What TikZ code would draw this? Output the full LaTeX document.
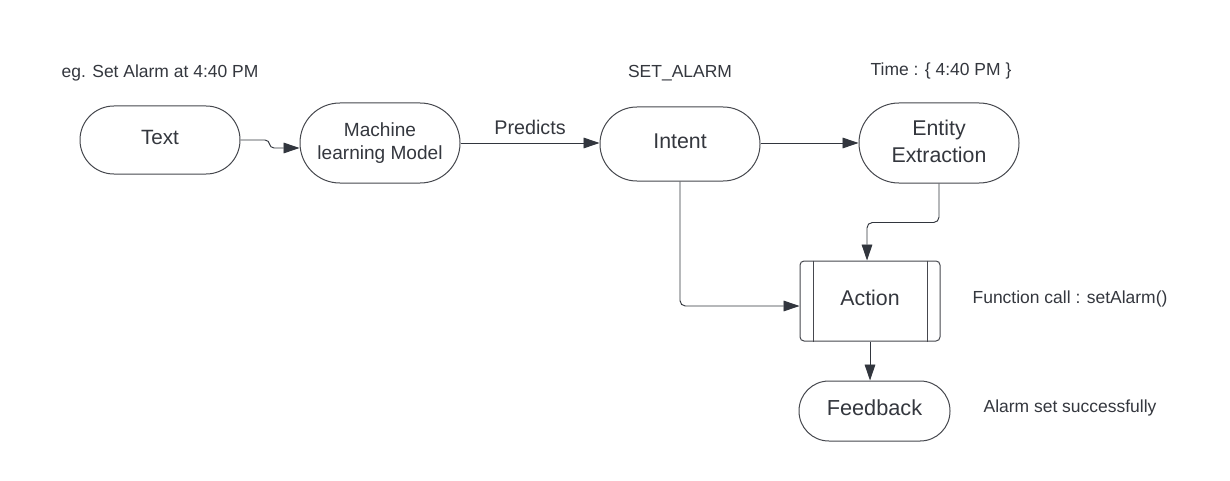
\documentclass[tikz,border=0pt]{standalone}
\usepackage{fontspec}
\setmainfont{Liberation Sans}
\usetikzlibrary{arrows.meta}
\definecolor{txt}{RGB}{52,55,62}
\definecolor{edge}{RGB}{70,72,78}
\definecolor{arrc}{RGB}{50,54,62}
\tikzset{
  pill/.style={draw=edge, line width=0.75pt, text=txt, align=center, inner sep=0pt},
  lbl/.style={text=txt, font=\fontsize{13.1pt}{15pt}\selectfont, inner sep=0pt},
  arr/.style={draw=arrc, line width=0.7pt, -{Triangle[length=12pt,width=8pt]}},
}
\begin{document}
\begin{tikzpicture}[x=0.75pt,y=-0.75pt]
\useasboundingbox[fill=white] (0,0) rectangle (1230,481);
% nodes
\node[pill, minimum width=120pt, minimum height=51pt, rounded corners=25.4pt, text depth=4.5pt,
      font=\fontsize{15.5pt}{18pt}\selectfont] (text) at (160,140) {Text};
\node[pill, minimum width=120pt, minimum height=60pt, rounded corners=29.9pt,
      font=\fontsize{14.3pt}{17.2pt}\selectfont] (ml) at (380,143) {Machine\\learning Model};
\node[pill, minimum width=120pt, minimum height=55.5pt, rounded corners=27.6pt, text depth=5pt,
      font=\fontsize{16pt}{19pt}\selectfont] (intent) at (680,144) {Intent};
\node[pill, minimum width=120pt, minimum height=60pt, rounded corners=29.9pt, text depth=2.5pt,
      font=\fontsize{16pt}{20pt}\selectfont] (entity) at (939,143) {Entity\\Extraction};
\node[pill, minimum width=105pt, minimum height=60pt, rounded corners=3pt, text depth=4.5pt,
      font=\fontsize{16pt}{19pt}\selectfont] (act) at (870,301) {Action};
\draw[edge, line width=0.75pt] ([xshift=10.5pt]act.north west) -- ([xshift=10.5pt]act.south west);
\draw[edge, line width=0.75pt] ([xshift=-9.75pt]act.north east) -- ([xshift=-9.75pt]act.south east);
\node[pill, minimum width=113.25pt, minimum height=45pt, rounded corners=22.4pt, text depth=4.5pt,
      font=\fontsize{16.3pt}{19pt}\selectfont] (fb) at (874.5,411) {Feedback};
% labels
\node[lbl] (l1) at (160,73) {eg. Set Alarm at 4:40 PM};
\node[lbl] (l2) at (680,73) {SET\_ALARM};
\node[lbl] (l3) at (941,71) {Time : \{ 4:40 PM \}};
\node[lbl] (l4) at (1070,299) {Function call : setAlarm()};
\node[lbl] (l5) at (1070,408) {Alarm set successfully};
% connectors
\coordinate (j1) at (265,140);
\coordinate (j2) at (274,148);
\draw[arr] (text.east) -- (j1) .. controls (271,140) and (268,148) .. (j2) -- ([yshift=-3.75pt]ml.west);
\draw[arr] (ml.east) -- node[above=6pt, text=txt, inner sep=0pt, font=\fontsize{14.8pt}{17pt}\selectfont] (pred) {Predicts} (intent.west |- ml.east);
\draw[arr] (intent.east |- entity.west) -- (entity.west);
\draw[arr, rounded corners=4pt] (entity.south) -- ++(0,39) -| ([xshift=-2.25pt]act.north);
\draw[arr, rounded corners=4pt] (intent.south) |- ([yshift=-3.75pt]act.west);
\draw[arr] (act.south) -- (act.south |- fb.north);
\end{tikzpicture}
\end{document}
